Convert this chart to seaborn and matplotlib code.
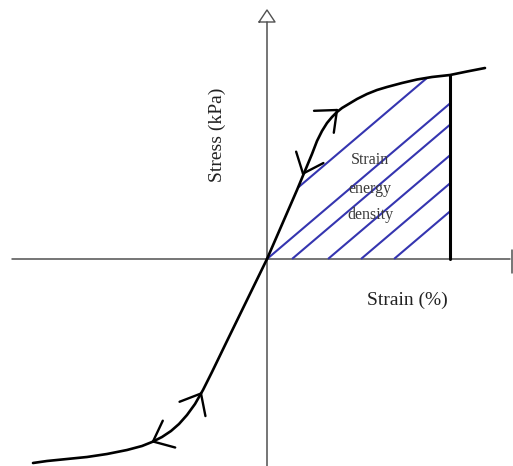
import numpy as np
import matplotlib
matplotlib.use("Agg")
import matplotlib.pyplot as plt
import seaborn as sns

# Loading branch (positive strain / stress)
strain_pos = [0.0, 1.0, 2.0, 3.0, 4.0, 4.5, 5.0, 5.5, 6.0, 6.5, 7.0, 7.5, 8.0, 9.0,
              10.0, 11.0, 12.0, 13.5, 15.0, 16.5, 18.3, 20.0, 21.8]
stress_pos = [0.0, 2.3, 4.6, 6.9, 9.3, 10.5, 11.8, 12.8, 13.6, 14.2, 14.7, 15.1, 15.4, 16.0,
              16.5, 16.9, 17.2, 17.6, 17.95, 18.2, 18.4, 18.75, 19.1]

# Compression branch (negative strain / stress)
strain_neg = [0.0, -2.0, -4.0, -5.5, -6.4, -7.2, -8.0, -8.8, -9.6, -10.5, -11.5, -12.5,
              -14.0, -16.0, -18.0, -20.0, -22.0, -23.4]
stress_neg = [0.0, -4.1, -8.2, -11.3, -13.1, -14.5, -15.6, -16.5, -17.2, -17.8, -18.3, -18.7,
              -19.1, -19.5, -19.8, -20.0, -20.2, -20.4]

# Strain where the unloading line (and shaded region) ends
strain_max = 18.3

# Hatch lines of the strain energy area: x-intercept and slope
hatch_intercepts = [-5.3, 0.0, 2.5, 6.1, 9.4, 12.7]
hatch_slope = 0.85

# Arrowheads: (branch, strain at tip, direction along the curve +1 up / -1 down)
arrows = [("pos", 7.0, 1), ("pos", 3.6, -1), ("neg", -6.6, 1), ("neg", -11.4, -1)]

sns.set_style("white")
plt.rcParams["font.family"] = ["Liberation Serif", "DejaVu Serif"]

fig = plt.figure(figsize=(5.13, 4.66), dpi=100)
ax = fig.add_axes([0, 0, 1, 1])
ax.set_xlim(-26.7, 24.6)
ax.set_ylim(-20.7, 25.9)
ax.axis("off")

# axes of the sketch
axis_col = "#505050"
ax.plot([-25.5, 24.3], [0, 0], color=axis_col, lw=1.1)
ax.plot([24.5, 24.5], [-1.4, 0.9], color=axis_col, lw=1.1)
ax.plot([0, 0], [-20.7, 23.7], color=axis_col, lw=1.1)
ax.plot([-0.8, 0.0, 0.8, -0.8], [23.7, 24.9, 23.7, 23.7], color=axis_col, lw=1.0)

# hatching under the loading curve
xs = np.linspace(0, strain_max, 2000)
curve_y = np.interp(xs, strain_pos, stress_pos)
for b in hatch_intercepts:
    line_y = hatch_slope * (xs - b)
    inside = (line_y >= 0) & (line_y <= curve_y)
    if inside.any():
        ax.plot(xs[inside], line_y[inside], color="#3535b0", lw=1.5, solid_capstyle="butt")

# stress-strain curve
sns.lineplot(x=strain_pos, y=stress_pos, sort=False, estimator=None, color="black", lw=1.9, ax=ax)
sns.lineplot(x=strain_neg, y=stress_neg, sort=False, estimator=None, color="black", lw=1.9, ax=ax)

# unloading line at max strain
y_top = np.interp(strain_max, strain_pos, stress_pos)
ax.plot([strain_max, strain_max], [0, y_top], color="black", lw=2.2)

# open arrowheads along the curve
for branch, sx, d in arrows:
    if branch == "pos":
        cx, cy = strain_pos, stress_pos
        tip = (sx, np.interp(sx, cx, cy) + 0.2)
    else:
        cx, cy = strain_neg[::-1], stress_neg[::-1]
        tip = (sx, np.interp(sx, cx, cy))
    dx = 0.4
    slope = (np.interp(sx + dx, cx, cy) - np.interp(sx - dx, cx, cy)) / (2 * dx)
    ang = np.arctan2(slope, 1.0)
    if d < 0:
        ang += np.pi
    for off in (np.radians(140), -np.radians(140)):
        bx = tip[0] + 2.3 * np.cos(ang + off)
        by = tip[1] + 2.3 * np.sin(ang + off)
        ax.plot([tip[0], bx], [tip[1], by], color="black", lw=1.7, solid_capstyle="round")

# labels
ax.text(-5.0, 12.4, "Stress (kPa)", rotation=90, ha="center", va="center", fontsize=14, color="#222222")
ax.text(14.0, -4.1, "Strain (%)", ha="center", va="center", fontsize=14, color="#222222")
for txt, ty in [("Strain", 9.9), ("energy", 7.0), ("density", 4.4)]:
    ax.text(10.3, ty, txt, ha="center", va="center", fontsize=11.5, color="#3a3a3a")

fig.savefig("out.png", dpi=100)
